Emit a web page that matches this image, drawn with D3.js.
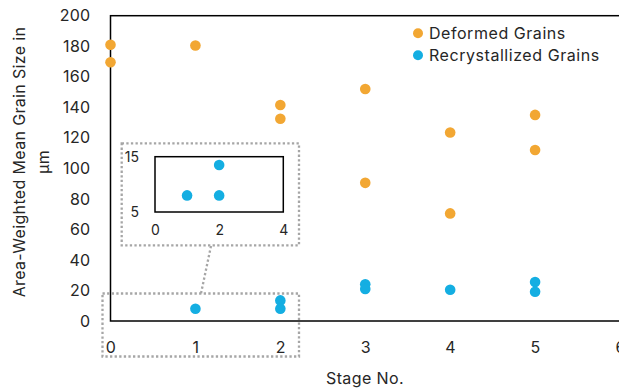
<!DOCTYPE html>
<html>
<head>
<meta charset="utf-8">
<script src="https://cdn.jsdelivr.net/npm/d3@7/dist/d3.min.js"></script>
<style>
  html, body { margin: 0; padding: 0; background: #fff; }
  svg { display: block; font-family: "Inter", "Noto Sans", sans-serif; }
</style>
</head>
<body>
<svg id="chart" width="619" height="391"></svg>
<script>
// ---- Data ----
const seriesNames = ["Deformed Grains", "Recrystallized Grains"];
const deformedStage = [0, 0, 1, 2, 2, 3, 3, 4, 4, 5, 5];
const deformedSize  = [181, 169.5, 180.5, 141.5, 132.5, 152, 90.5, 123.5, 70.5, 135, 112];
const recrystStage  = [1, 2, 2, 3, 3, 4, 5, 5];
const recrystSize   = [8, 13.5, 8, 24, 21, 20.5, 25.5, 19.2];
const xTicks = [0, 1, 2, 3, 4, 5, 6];
const yTicks = [0, 20, 40, 60, 80, 100, 120, 140, 160, 180, 200];
const insetXTicks = [0, 2, 4];
const insetYTicks = [5, 15];
const xTitle = "Stage No.";
const yTitleLines = ["Area-Weighted Mean Grain Size in", "μm"];

const colors = ["#F2A733", "#14AEE2"];
const textColor = "#262626";

const svg = d3.select("#chart");

// ---- Main scales ----
const x = d3.scaleLinear().domain([0, 6]).range([110.5, 620]);
const y = d3.scaleLinear().domain([0, 200]).range([321, 15.7]);

// frame
svg.append("rect")
  .attr("x", x(0)).attr("y", y(200))
  .attr("width", x(6) - x(0)).attr("height", y(0) - y(200))
  .attr("fill", "none").attr("stroke", "#000").attr("stroke-width", 1.5);

// axes (labels only)
const xAxis = svg.append("g").attr("transform", `translate(0,${y(0)})`)
  .call(d3.axisBottom(x).tickValues(xTicks).tickSize(0).tickPadding(21).tickFormat(d3.format("d")));
const yAxis = svg.append("g").attr("transform", `translate(${x(0)},0)`)
  .call(d3.axisLeft(y).tickValues(yTicks).tickSize(0).tickPadding(20).tickFormat(d3.format("d")));
[xAxis, yAxis].forEach(g => {
  g.select(".domain").remove();
  g.selectAll("text").attr("font-family", "Inter").attr("font-size", 16)
    .attr("letter-spacing", 0.3).attr("fill", textColor);
});

// zoom region box (dotted)
const dotted = { stroke: "#A6A6A6", width: 2.3, dash: "2.3 2.3" };
svg.append("rect")
  .attr("x", 102.5).attr("y", 293.5).attr("width", 196.5).attr("height", 63)
  .attr("fill", "none").attr("stroke", dotted.stroke)
  .attr("stroke-width", dotted.width).attr("stroke-dasharray", dotted.dash);

// connector
svg.append("line")
  .attr("x1", 211).attr("y1", 246).attr("x2", 201).attr("y2", 293.5)
  .attr("stroke", dotted.stroke).attr("stroke-width", dotted.width).attr("stroke-dasharray", dotted.dash);

// inset container
svg.append("rect")
  .attr("x", 121.7).attr("y", 143.3).attr("width", 177.3).attr("height", 102)
  .attr("fill", "#fff").attr("stroke", dotted.stroke)
  .attr("stroke-width", dotted.width).attr("stroke-dasharray", dotted.dash);

// inset scales
const ix = d3.scaleLinear().domain([0, 4]).range([155, 283.3]);
const iy = d3.scaleLinear().domain([5, 15]).range([212, 156.7]);

svg.append("rect")
  .attr("x", ix(0)).attr("y", iy(15)).attr("width", ix(4) - ix(0)).attr("height", iy(5) - iy(15))
  .attr("fill", "none").attr("stroke", "#000").attr("stroke-width", 1.5);

const ixAxis = svg.append("g").attr("transform", `translate(0,${iy(5)})`)
  .call(d3.axisBottom(ix).tickValues(insetXTicks).tickSize(0).tickPadding(13).tickFormat(d3.format("d")));
const iyAxis = svg.append("g").attr("transform", `translate(${ix(0)},0)`)
  .call(d3.axisLeft(iy).tickValues(insetYTicks).tickSize(0).tickPadding(16).tickFormat(d3.format("d")));
[ixAxis, iyAxis].forEach(g => {
  g.select(".domain").remove();
  g.selectAll("text").attr("font-family", "Inter").attr("font-size", 14).attr("fill", textColor);
});

// inset points (recrystallized grains in the zoom window)
const insetIdx = recrystStage.map((s, i) => i).filter(i => recrystStage[i] <= 2);
svg.append("g").selectAll("circle").data(insetIdx).join("circle")
  .attr("cx", i => ix(recrystStage[i])).attr("cy", i => iy(recrystSize[i]))
  .attr("r", 5.3).attr("fill", colors[1]);

// main points
const series = [
  deformedStage.map((s, i) => ({ s, v: deformedSize[i] })),
  recrystStage.map((s, i) => ({ s, v: recrystSize[i] }))
];
series.forEach((pts, k) => {
  svg.append("g").selectAll("circle").data(pts).join("circle")
    .attr("cx", d => x(d.s)).attr("cy", d => y(d.v))
    .attr("r", 5.3).attr("fill", colors[k]);
});

// legend
const legend = svg.append("g");
seriesNames.forEach((name, k) => {
  const ly = 33.3 + k * 22;
  legend.append("circle").attr("cx", 418).attr("cy", ly).attr("r", 5).attr("fill", colors[k]);
  legend.append("text").attr("x", 429).attr("y", ly).attr("dy", "0.36em")
    .attr("font-size", 16).attr("letter-spacing", 0.55).attr("fill", textColor).text(name);
});

// axis titles
svg.append("text").attr("x", 365).attr("y", 384).attr("text-anchor", "middle")
  .attr("font-size", 16).attr("letter-spacing", 0.4).attr("fill", textColor).text(xTitle);
const yt = [24.5, 49];
yTitleLines.forEach((t, k) => {
  svg.append("text").attr("transform", `translate(${yt[k]},162) rotate(-90)`)
    .attr("text-anchor", "middle").attr("font-size", 16).attr("letter-spacing", 0.35)
    .attr("fill", textColor).text(t);
});
</script>
</body>
</html>
